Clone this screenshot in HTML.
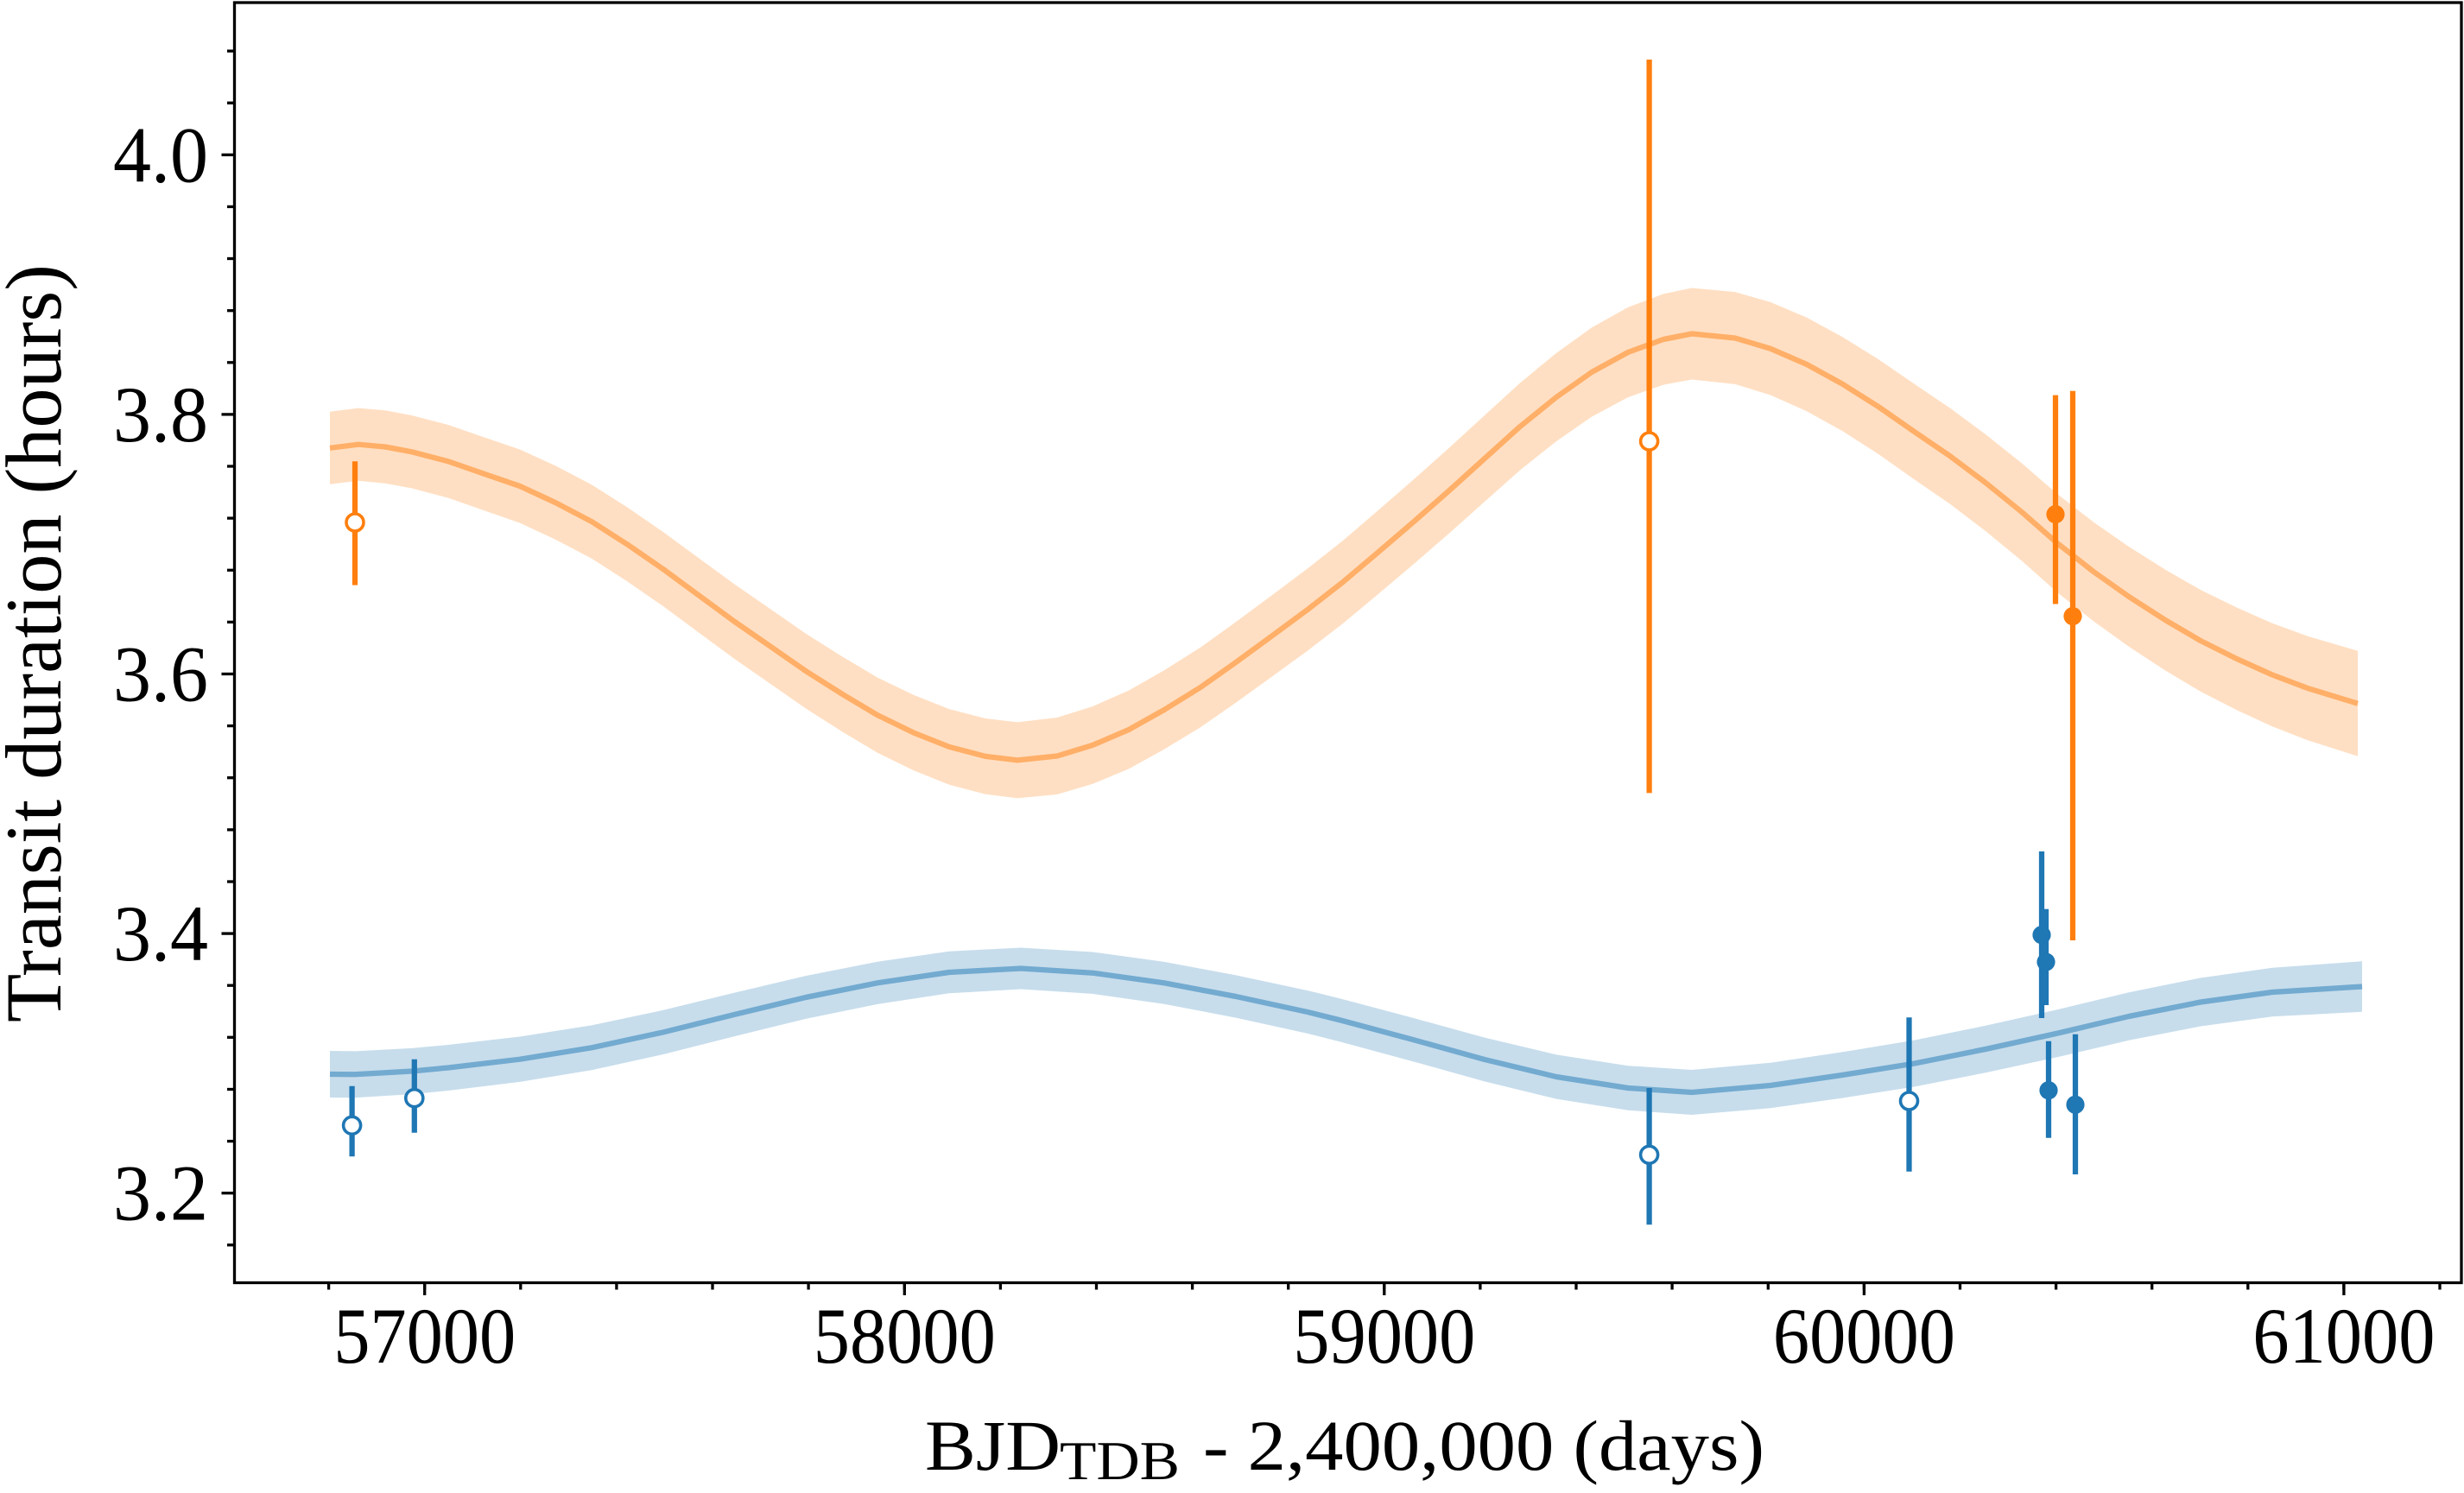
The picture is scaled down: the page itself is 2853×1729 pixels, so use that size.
<!DOCTYPE html>
<html>
<head>
<meta charset="utf-8">
<style>
  html, body { margin: 0; padding: 0; background: #ffffff; }
  svg { display: block; }
  text { font-family: "Liberation Serif", "DejaVu Serif", serif; fill: #000; }
</style>
</head>
<body>
<svg width="2853" height="1729" viewBox="0 0 2853 1729" xmlns="http://www.w3.org/2000/svg">
  <rect x="0" y="0" width="2853" height="1729" fill="#ffffff"/>

  <!-- Orange band -->
  <polygon fill="#ff7f0e" fill-opacity="0.25" points="
    382,476.8 415,472.6 446,475.3 477,481.1 519,492.0 560,506.2 602,520.5 643,539.3 685,561.2 726,587.3 767.5,615.8 809,646.3 850,676.3 892,705.3 933,733.7 975,760.2 1016,784.6 1058,804.9 1099,821.1 1141,832.0 1178,836.4 1224,831.0 1265,818.1 1307,799.6 1348,776.2 1390,749.8 1431,720.3 1472,689.9 1514,658.4 1555,626.0 1594,592.5 1636,556.0 1677,519.5 1719,481.0 1760,443.5 1802,408.9 1843,379.4 1885,355.9 1926,340.4 1959,333.5 2009,338.1 2050,349.9 2092,367.8 2133,390.0 2175,416.1 2216,444.3 2258,472.6 2299,503.0 2341,536.5 2382,572.0 2424,604.6 2465,633.1 2507,659.6 2548,683.1 2590,703.6 2631,721.7 2672,736.7 2730,753.7
    2730,875.7 2672,857.3 2631,841.3 2590,822.4 2548,800.9 2507,776.4 2465,748.9 2424,719.4 2382,686.0 2341,649.5 2299,615.0 2258,583.8 2216,554.9 2175,525.9 2133,499.0 2092,476.2 2050,457.5 2009,444.9 1959,439.5 1926,445.6 1885,460.1 1843,482.6 1802,511.1 1760,544.5 1719,581.0 1677,618.5 1636,654.0 1594,689.5 1555,722.0 1514,753.6 1472,784.1 1431,813.7 1390,842.2 1348,867.8 1307,890.4 1265,907.9 1224,920.0 1178,924.4 1141,919.8 1099,908.7 1058,892.3 1016,871.8 975,847.2 933,820.5 892,791.9 850,762.7 809,732.5 767.5,701.8 726,673.1 685,646.8 643,624.7 602,605.6 560,591.0 519,576.6 477,565.5 446,559.7 415,556.8 382,560.8"/>

  <!-- Orange line -->
  <polyline fill="none" stroke="#ff7f0e" stroke-opacity="0.5" stroke-width="6.25" stroke-linejoin="round" points="
    382,518.8 415,514.7 446,517.5 477,523.3 519,534.3 560,548.6 602,563 643,582 685,604 726,630.2 767.5,658.8 809,689.4 850,719.5 892,748.6 933,777.1 975,803.7 1016,828.2 1058,848.6 1099,864.9 1141,875.9 1178,880.4 1224,875.5 1265,863 1307,845 1348,822 1390,796 1431,767 1472,737 1514,706 1555,674 1594,641 1636,605 1677,569 1719,531 1760,494 1802,460 1843,431 1885,408 1926,393 1959,386.5 2009,391.5 2050,403.7 2092,422 2133,444.5 2175,471 2216,499.6 2258,528.2 2299,559 2341,593 2382,629 2424,662 2465,691 2507,718 2548,742 2590,763 2631,781.5 2672,797 2730,814.7"/>

  <!-- Blue band -->
  <polygon fill="#1f77b4" fill-opacity="0.25" points="
    382,1217 411,1217.4 477,1213.9 519,1210 602,1200.5 685,1187.4 767.5,1169.9 850,1149.8 933,1130.1 1016,1113.7 1099,1101.7 1182,1097.5 1265,1102.5 1348,1113.9 1431,1129.4 1514,1147.1 1553,1156.7 1636,1178.8 1719,1201.6 1802,1221.4 1885,1234.2 1959,1239 2050,1230.7 2133,1218.4 2216,1204.8 2299,1187.8 2382,1169.2 2465,1149.2 2548,1132.5 2631,1120.7 2735,1113.3
    2735,1171.7 2631,1177.3 2548,1188.5 2465,1204.8 2382,1224.2 2299,1242.2 2216,1258.6 2133,1271.6 2050,1283.3 1959,1291 1885,1285.8 1802,1272.6 1719,1252.4 1636,1229.2 1553,1206.7 1514,1196.9 1431,1178.6 1348,1162.7 1265,1150.9 1182,1145.5 1099,1150.3 1016,1162.9 933,1179.9 850,1200.2 767.5,1221.1 685,1239.2 602,1252.9 519,1263 477,1267.1 411,1271.2 382,1271"/>

  <!-- Blue line -->
  <polyline fill="none" stroke="#1f77b4" stroke-opacity="0.5" stroke-width="6.25" stroke-linejoin="round" points="
    382,1244 411,1244.3 477,1240.5 519,1236.5 602,1226.7 685,1213.3 767.5,1195.5 850,1175 933,1155 1016,1138.3 1099,1126 1182,1121.5 1265,1126.7 1348,1138.3 1431,1154 1514,1172 1553,1181.7 1636,1204 1719,1227 1802,1247 1885,1260 1959,1265 2050,1257 2133,1245 2216,1231.7 2299,1215 2382,1196.7 2465,1177 2548,1160.5 2631,1149 2735,1142.5"/>

  <!-- Orange error bars -->
  <g stroke="#ff7f0e" stroke-width="6.25">
    <line x1="411" y1="534.3" x2="411" y2="677.6"/>
    <line x1="1909.6" y1="69" x2="1909.6" y2="918.4"/>
    <line x1="2380" y1="457.6" x2="2380" y2="699.5"/>
    <line x1="2400" y1="452.7" x2="2400" y2="1089"/>
  </g>
  <g>
    <circle cx="411" cy="605" r="10" fill="#ffffff" stroke="#ff7f0e" stroke-width="3.6"/>
    <circle cx="1909.6" cy="511" r="10" fill="#ffffff" stroke="#ff7f0e" stroke-width="3.6"/>
    <circle cx="2380" cy="595.6" r="10.6" fill="#ff7f0e"/>
    <circle cx="2400" cy="713.6" r="10.6" fill="#ff7f0e"/>
  </g>

  <!-- Blue error bars -->
  <g stroke="#1f77b4" stroke-width="6.25">
    <line x1="407.6" y1="1257.7" x2="407.6" y2="1339.3"/>
    <line x1="479.8" y1="1226.7" x2="479.8" y2="1311.7"/>
    <line x1="1909.6" y1="1260" x2="1909.6" y2="1418.3"/>
    <line x1="2210.5" y1="1178.3" x2="2210.5" y2="1356.7"/>
    <line x1="2364" y1="986" x2="2364" y2="1179"/>
    <line x1="2369" y1="1052.7" x2="2369" y2="1164"/>
    <line x1="2372" y1="1205.7" x2="2372" y2="1317.7"/>
    <line x1="2403" y1="1197.7" x2="2403" y2="1360"/>
  </g>
  <g>
    <circle cx="407.6" cy="1303.3" r="10" fill="#ffffff" stroke="#1f77b4" stroke-width="3.6"/>
    <circle cx="479.8" cy="1271.7" r="10" fill="#ffffff" stroke="#1f77b4" stroke-width="3.6"/>
    <circle cx="1909.6" cy="1337.3" r="10" fill="#ffffff" stroke="#1f77b4" stroke-width="3.6"/>
    <circle cx="2210.5" cy="1275" r="10" fill="#ffffff" stroke="#1f77b4" stroke-width="3.6"/>
    <circle cx="2364" cy="1082.7" r="10.6" fill="#1f77b4"/>
    <circle cx="2369" cy="1114" r="10.6" fill="#1f77b4"/>
    <circle cx="2372" cy="1262.7" r="10.6" fill="#1f77b4"/>
    <circle cx="2403" cy="1279.3" r="10.6" fill="#1f77b4"/>
  </g>

  <!-- Axes frame -->
  <rect x="271.5" y="3" width="2578.5" height="1482.5" fill="none" stroke="#000" stroke-width="3.3"/>

  <!-- Y ticks -->
  <g stroke="#000" stroke-width="3.3">
    <!-- major -->
    <line x1="256.5" y1="179.3" x2="271.5" y2="179.3"/>
    <line x1="256.5" y1="479.9" x2="271.5" y2="479.9"/>
    <line x1="256.5" y1="780.5" x2="271.5" y2="780.5"/>
    <line x1="256.5" y1="1081.1" x2="271.5" y2="1081.1"/>
    <line x1="256.5" y1="1381.7" x2="271.5" y2="1381.7"/>
    <!-- minor -->
    <line x1="263" y1="59.1" x2="271.5" y2="59.1"/>
    <line x1="263" y1="119.2" x2="271.5" y2="119.2"/>
    <line x1="263" y1="239.4" x2="271.5" y2="239.4"/>
    <line x1="263" y1="299.5" x2="271.5" y2="299.5"/>
    <line x1="263" y1="359.7" x2="271.5" y2="359.7"/>
    <line x1="263" y1="419.8" x2="271.5" y2="419.8"/>
    <line x1="263" y1="540.0" x2="271.5" y2="540.0"/>
    <line x1="263" y1="600.1" x2="271.5" y2="600.1"/>
    <line x1="263" y1="660.3" x2="271.5" y2="660.3"/>
    <line x1="263" y1="720.4" x2="271.5" y2="720.4"/>
    <line x1="263" y1="840.6" x2="271.5" y2="840.6"/>
    <line x1="263" y1="900.7" x2="271.5" y2="900.7"/>
    <line x1="263" y1="960.9" x2="271.5" y2="960.9"/>
    <line x1="263" y1="1021.0" x2="271.5" y2="1021.0"/>
    <line x1="263" y1="1141.2" x2="271.5" y2="1141.2"/>
    <line x1="263" y1="1201.3" x2="271.5" y2="1201.3"/>
    <line x1="263" y1="1261.5" x2="271.5" y2="1261.5"/>
    <line x1="263" y1="1321.6" x2="271.5" y2="1321.6"/>
    <line x1="263" y1="1441.8" x2="271.5" y2="1441.8"/>
  </g>

  <!-- X ticks -->
  <g stroke="#000" stroke-width="3.3">
    <!-- minor -->
    <line x1="380.6" y1="1485" x2="380.6" y2="1493.5"/>
    <line x1="491.7" y1="1485" x2="491.7" y2="1493.5"/>
    <line x1="602.8" y1="1485" x2="602.8" y2="1493.5"/>
    <line x1="713.9" y1="1485" x2="713.9" y2="1493.5"/>
    <line x1="825.0" y1="1485" x2="825.0" y2="1493.5"/>
    <line x1="936.1" y1="1485" x2="936.1" y2="1493.5"/>
    <line x1="1047.3" y1="1485" x2="1047.3" y2="1493.5"/>
    <line x1="1158.4" y1="1485" x2="1158.4" y2="1493.5"/>
    <line x1="1269.5" y1="1485" x2="1269.5" y2="1493.5"/>
    <line x1="1380.6" y1="1485" x2="1380.6" y2="1493.5"/>
    <line x1="1491.7" y1="1485" x2="1491.7" y2="1493.5"/>
    <line x1="1602.8" y1="1485" x2="1602.8" y2="1493.5"/>
    <line x1="1713.9" y1="1485" x2="1713.9" y2="1493.5"/>
    <line x1="1825.0" y1="1485" x2="1825.0" y2="1493.5"/>
    <line x1="1936.1" y1="1485" x2="1936.1" y2="1493.5"/>
    <line x1="2047.3" y1="1485" x2="2047.3" y2="1493.5"/>
    <line x1="2158.4" y1="1485" x2="2158.4" y2="1493.5"/>
    <line x1="2269.5" y1="1485" x2="2269.5" y2="1493.5"/>
    <line x1="2380.6" y1="1485" x2="2380.6" y2="1493.5"/>
    <line x1="2491.7" y1="1485" x2="2491.7" y2="1493.5"/>
    <line x1="2602.8" y1="1485" x2="2602.8" y2="1493.5"/>
    <line x1="2713.9" y1="1485" x2="2713.9" y2="1493.5"/>
    <line x1="2825.0" y1="1485" x2="2825.0" y2="1493.5"/>
    <!-- major -->
    <line x1="491.7" y1="1485" x2="491.7" y2="1500"/>
    <line x1="1047.3" y1="1485" x2="1047.3" y2="1500"/>
    <line x1="1602.8" y1="1485" x2="1602.8" y2="1500"/>
    <line x1="2158.4" y1="1485" x2="2158.4" y2="1500"/>
    <line x1="2713.9" y1="1485" x2="2713.9" y2="1500"/>
  </g>

  <!-- Y tick labels -->
  <g font-size="92" text-anchor="end">
    <text x="241" y="210.3" textLength="110" lengthAdjust="spacingAndGlyphs">4.0</text>
    <text x="241" y="510.9" textLength="110" lengthAdjust="spacingAndGlyphs">3.8</text>
    <text x="241" y="811.5" textLength="110" lengthAdjust="spacingAndGlyphs">3.6</text>
    <text x="241" y="1112.1" textLength="110" lengthAdjust="spacingAndGlyphs">3.4</text>
    <text x="241" y="1412.7" textLength="110" lengthAdjust="spacingAndGlyphs">3.2</text>
  </g>

  <!-- X tick labels -->
  <g font-size="92" text-anchor="middle">
    <text x="491.7" y="1578" textLength="211" lengthAdjust="spacingAndGlyphs">57000</text>
    <text x="1047.3" y="1578" textLength="211" lengthAdjust="spacingAndGlyphs">58000</text>
    <text x="1602.8" y="1578" textLength="211" lengthAdjust="spacingAndGlyphs">59000</text>
    <text x="2158.4" y="1578" textLength="211" lengthAdjust="spacingAndGlyphs">60000</text>
    <text x="2713.9" y="1578" textLength="211" lengthAdjust="spacingAndGlyphs">61000</text>
  </g>

  <!-- X axis label -->
  <text x="1071" y="1702" font-size="83" textLength="157" lengthAdjust="spacingAndGlyphs">BJD</text>
  <text x="1227" y="1713" font-size="63" textLength="139" lengthAdjust="spacingAndGlyphs">TDB</text>
  <text x="1393" y="1702" font-size="83" textLength="650" lengthAdjust="spacingAndGlyphs">- 2,400,000 (days)</text>

  <!-- Y axis label -->
  <text transform="translate(70,745) rotate(-90)" x="0" y="0" font-size="92" text-anchor="middle" textLength="878" lengthAdjust="spacingAndGlyphs">Transit duration (hours)</text>
</svg>
</body>
</html>
